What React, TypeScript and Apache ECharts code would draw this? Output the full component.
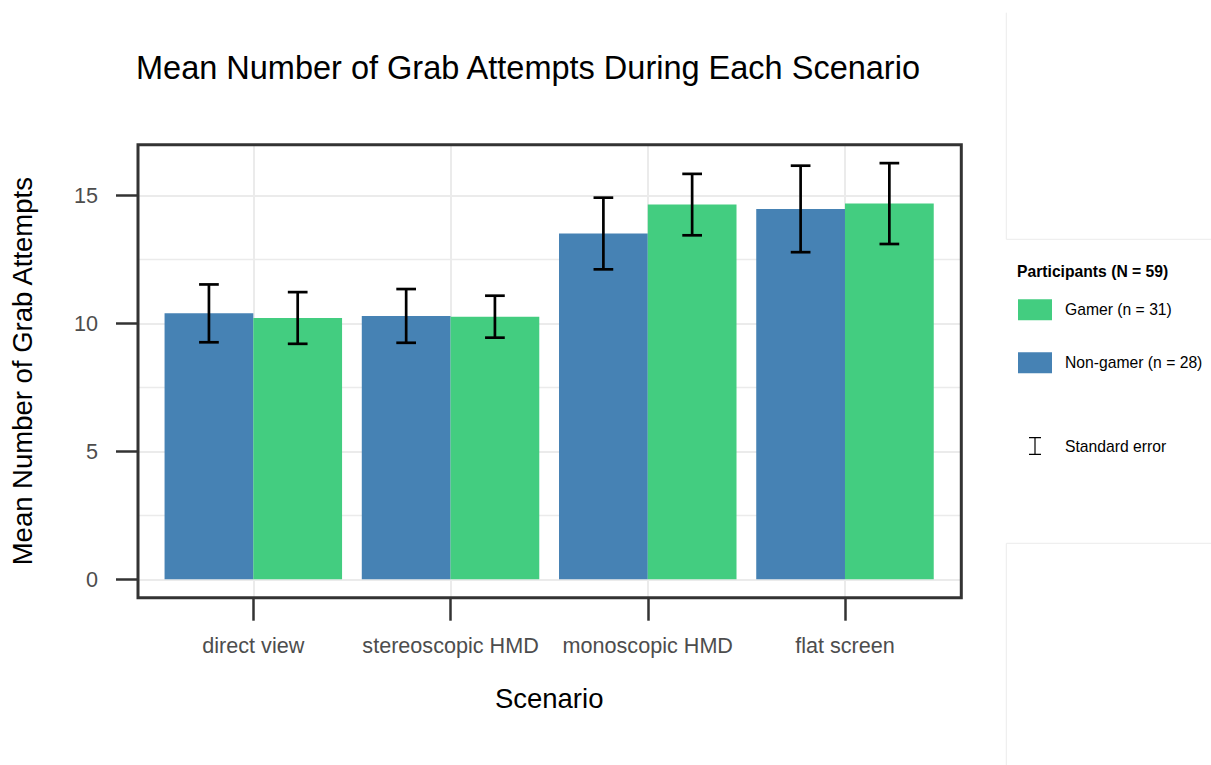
import React, { useEffect, useRef } from 'react';
import * as echarts from 'echarts';

// Scenario categories and per-group means with standard errors
const scenarios = ['direct view', 'stereoscopic HMD', 'monoscopic HMD', 'flat screen'];
const nonGamerMean = [10.39, 10.29, 13.51, 14.47];
const nonGamerSE = [1.13, 1.05, 1.4, 1.69];
const gamerMean = [10.21, 10.26, 14.64, 14.68];
const gamerSE = [1.01, 0.82, 1.2, 1.58];

// Value axis ticks and grid lines
const yTicks = [0, 5, 10, 15];
const yMinorLines = [2.5, 7.5, 12.5];
const yLimits = [-0.72, 16.98];

const NON_GAMER = 'Non-gamer (n = 28)';
const GAMER = 'Gamer (n = 31)';
const SE_NAME = 'Standard error';

const FONT = '"Liberation Sans", Arial, Helvetica, sans-serif';

// Panel frame in pixels
const PANEL = { left: 138, top: 144.7, right: 961.3, bottom: 597.7 };
const W = 1211;
const H = 765;

export default function App() {
  const ref = useRef<HTMLDivElement | null>(null);

  useEffect(() => {
    if (!ref.current) return;
    const chart = echarts.init(ref.current, undefined, { renderer: 'svg' });

    // rows: [category index, group (0 non-gamer, 1 gamer), low, high]
    const errorRows: number[][] = [];
    scenarios.forEach((_, i) => {
      errorRows.push([i, 0, nonGamerMean[i] - nonGamerSE[i], nonGamerMean[i] + nonGamerSE[i]]);
      errorRows.push([i, 1, gamerMean[i] - gamerSE[i], gamerMean[i] + gamerSE[i]]);
    });

    const tickLine = { color: '#333333', width: 2.5 };
    const legendText = { fontSize: 15.7, color: '#000', fontFamily: FONT, padding: [0, 0, 0, 8] };
    const gridLine = { color: '#ebebeb', width: 2, type: 'solid' };

    const option: any = {
      animation: false,
      backgroundColor: '#ffffff',
      title: {
        text: 'Mean Number of Grab Attempts During Each Scenario',
        left: 136,
        top: 51.5,
        padding: 0,
        textStyle: { fontSize: 32.5, fontWeight: 'normal', color: '#000', fontFamily: FONT },
      },
      grid: [
        {
          left: 154.7,
          right: W - 943.6,
          top: PANEL.top,
          bottom: H - PANEL.bottom,
        },
        {
          left: PANEL.left,
          right: W - PANEL.right,
          top: PANEL.top,
          bottom: H - PANEL.bottom,
        },
      ],
      xAxis: [
        {
          type: 'category',
          gridIndex: 0,
          data: scenarios,
          axisLine: { show: false, onZero: false },
          axisTick: { show: true, interval: 0, alignWithLabel: true, length: 23, lineStyle: tickLine },
          axisLabel: { interval: 0, margin: 36.6, fontSize: 21.6, color: '#4d4d4d', fontFamily: FONT },
          splitLine: { show: false },
          name: 'Scenario',
          nameLocation: 'middle',
          nameGap: 86.6,
          nameTextStyle: { fontSize: 27.5, color: '#000', fontFamily: FONT },
        },
        { type: 'value', gridIndex: 1, min: 0, max: 1, show: false },
      ],
      yAxis: [
        { type: 'value', gridIndex: 0, min: yLimits[0], max: yLimits[1], show: false },
        {
          type: 'value',
          gridIndex: 1,
          min: yLimits[0],
          max: yLimits[1],
          axisLine: { show: false, onZero: false },
          axisTick: { show: true, customValues: yTicks, length: 23, lineStyle: tickLine },
          axisLabel: { customValues: yTicks, margin: 41, fontSize: 21.6, color: '#4d4d4d', fontFamily: FONT },
          splitLine: { show: false },
          name: 'Mean Number of Grab Attempts',
          nameLocation: 'middle',
          nameGap: 103,
          nameRotate: 90,
          nameTextStyle: { fontSize: 27.5, color: '#000', fontFamily: FONT },
        },
      ],
      legend: [
        {
          data: [GAMER, NON_GAMER],
          orient: 'vertical',
          left: 1018,
          top: 299.3,
          itemWidth: 34,
          itemHeight: 21,
          itemGap: 32,
          icon: 'rect',
          selectedMode: false,
          padding: 0,
          textStyle: legendText,
        },
        {
          data: [{ name: SE_NAME, icon: 'path://M0 0H12V1.2H6.6V16.8H12V18H0V16.8H5.4V1.2H0Z' }],
          orient: 'vertical',
          left: 1029,
          top: 437,
          itemWidth: 12,
          itemHeight: 18,
          selectedMode: false,
          padding: 0,
          textStyle: { ...legendText, padding: [0, 0, 0, 19] },
        },
      ],
      series: [
        {
          name: NON_GAMER,
          type: 'bar',
          xAxisIndex: 0,
          yAxisIndex: 0,
          data: nonGamerMean,
          barWidth: '45%',
          barGap: '0%',
          itemStyle: { color: '#4682b4' },
          z: 2,
        },
        {
          name: GAMER,
          type: 'bar',
          xAxisIndex: 0,
          yAxisIndex: 0,
          data: gamerMean,
          barWidth: '45%',
          barGap: '0%',
          itemStyle: { color: '#43cd80' },
          z: 2,
        },
        {
          name: SE_NAME,
          type: 'custom',
          xAxisIndex: 0,
          yAxisIndex: 0,
          data: errorRows,
          dimensions: ['cat', 'group', 'low', 'high'],
          encode: { x: 0, y: [2, 3] },
          itemStyle: { color: '#000' },
          z: 3,
          renderItem: (_params: any, api: any) => {
            const cat = api.value(0);
            const grp = api.value(1);
            const band = api.size([1, 0])[0];
            const cx = api.coord([cat, 0])[0] + (grp === 0 ? -0.225 : 0.225) * band;
            const yLo = api.coord([cat, api.value(2)])[1];
            const yHi = api.coord([cat, api.value(3)])[1];
            const cap = band * 0.05;
            const style = { stroke: '#000', lineWidth: 2.7, fill: null };
            return {
              type: 'group',
              children: [
                { type: 'line', shape: { x1: cx, y1: yHi, x2: cx, y2: yLo }, style },
                { type: 'line', shape: { x1: cx - cap, y1: yHi, x2: cx + cap, y2: yHi }, style },
                { type: 'line', shape: { x1: cx - cap, y1: yLo, x2: cx + cap, y2: yLo }, style },
              ],
            };
          },
        },
        {
          // vertical grid lines at each scenario
          name: 'scenario grid',
          type: 'line',
          xAxisIndex: 0,
          yAxisIndex: 0,
          data: [],
          silent: true,
          markLine: {
            silent: true,
            symbol: ['none', 'none'],
            label: { show: false },
            z: 1,
            lineStyle: gridLine,
            data: scenarios.map((s) => ({ xAxis: s })),
          },
        },
        {
          // horizontal grid lines across the panel
          name: 'panel grid',
          type: 'line',
          xAxisIndex: 1,
          yAxisIndex: 1,
          data: [],
          silent: true,
          markLine: {
            silent: true,
            symbol: ['none', 'none'],
            label: { show: false },
            z: 1,
            lineStyle: gridLine,
            data: [
              ...yTicks.map((v) => ({ yAxis: v, lineStyle: { width: 2 } })),
              ...yMinorLines.map((v) => ({ yAxis: v, lineStyle: { width: 1.3 } })),
            ],
          },
        },
      ],
      graphic: [
        {
          type: 'rect',
          z: 10,
          silent: true,
          shape: {
            x: PANEL.left,
            y: PANEL.top,
            width: PANEL.right - PANEL.left,
            height: PANEL.bottom - PANEL.top,
          },
          style: { fill: 'none', stroke: '#333333', lineWidth: 3 },
        },
        {
          type: 'text',
          x: 1017,
          y: 271,
          style: {
            text: 'Participants (N = 59)',
            fill: '#000',
            font: `bold 15.7px ${FONT}`,
            textVerticalAlign: 'middle',
          },
        },
        {
          type: 'polyline',
          silent: true,
          shape: { points: [[1006.3, 12.7], [1006.3, 239.3], [W, 239.3]] },
          style: { stroke: '#ebebeb', lineWidth: 1, fill: 'none' },
        },
        {
          type: 'polyline',
          silent: true,
          shape: { points: [[W, 543.3], [1006.3, 543.3], [1006.3, H]] },
          style: { stroke: '#ebebeb', lineWidth: 1, fill: 'none' },
        },
      ],
    };

    chart.setOption(option);
    return () => chart.dispose();
  }, []);

  return (
    <div
      ref={ref}
      style={{ position: 'fixed', left: 0, top: 0, width: W, height: H, background: '#fff' }}
    />
  );
}
